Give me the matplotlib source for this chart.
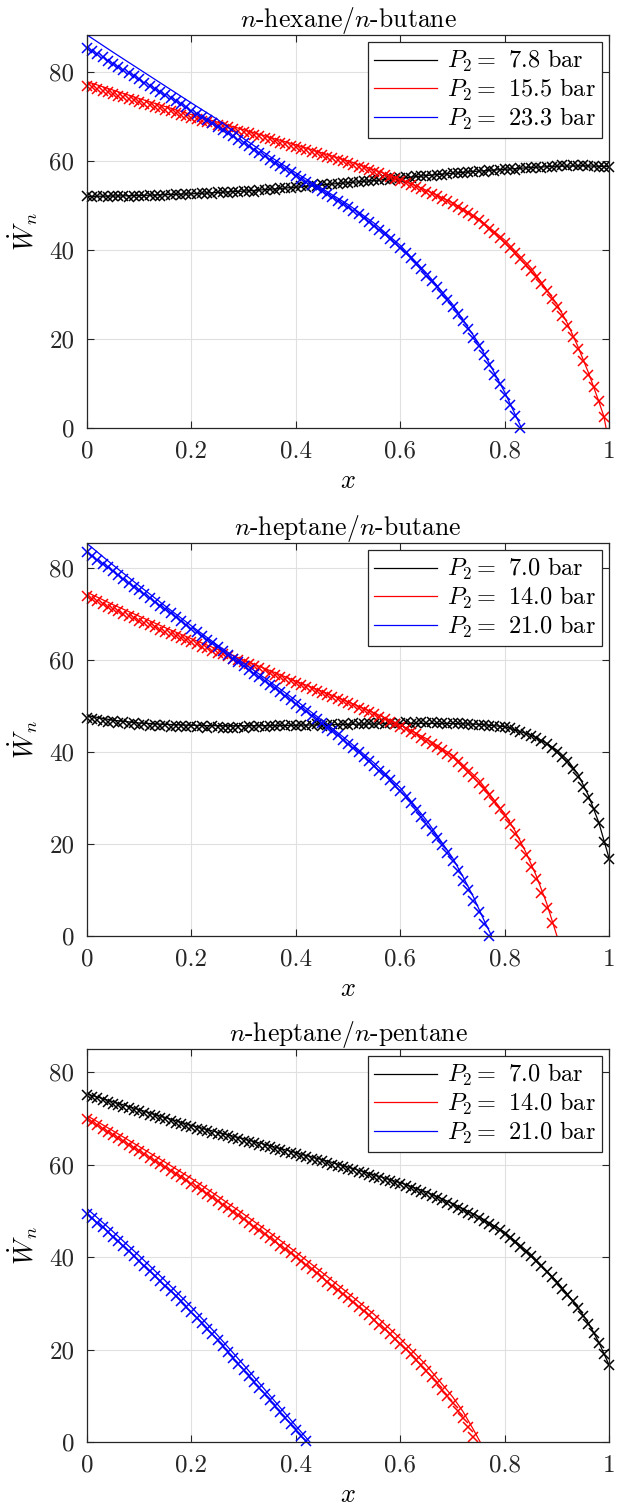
import numpy as np
import matplotlib
matplotlib.use("Agg")
import matplotlib.pyplot as plt

# Computer Modern look (cmr10 ships with matplotlib)
plt.rcParams['font.family'] = 'serif'
plt.rcParams['font.serif'] = ['cmr10']
plt.rcParams['mathtext.fontset'] = 'cm'
plt.rcParams['axes.formatter.use_mathtext'] = True

# ---------------- data ----------------
titles = [r'$n$-hexane/$n$-butane', r'$n$-heptane/$n$-butane', r'$n$-heptane/$n$-pentane']
pressures = [[7.8, 15.5, 23.3], [7.0, 14.0, 21.0], [7.0, 14.0, 21.0]]
ytops = [88.3, 85.4, 85.0]
colors = ['k', 'r', 'b']

# sampling grid of the simulated points (step 0.01)
x_pts = np.round(np.arange(101) * 0.01, 2)

# --- panel 1: n-hexane / n-butane ---
p1_black_line_x = [0, .05, .1, .15, .2, .25, .3, .35, .4, .45, .5, .55, .6, .65, .7, .75, .8, .85, .9, .95, 1.0]
p1_black_line_y = [52.0, 52.1, 52.2, 52.4, 52.6, 52.9, 53.2, 53.6, 54.1, 54.6, 55.1, 55.6, 56.1, 56.7, 57.2,
                   57.7, 58.1, 58.5, 58.8, 58.9, 58.7]
p1_black_pts = [52.1, 51.9, 52.0, 52.1, 51.9, 52.0, 52.2, 52.0, 51.9, 52.1, 52.2,
                52.1, 52.3, 52.2, 52.0, 52.4, 52.3, 52.5, 52.3, 52.6, 52.6,
                52.5, 52.8, 52.7, 52.6, 53.0, 52.9, 52.8, 53.1, 53.0, 53.2,
                53.3, 53.1, 53.5, 53.4, 53.7, 53.5, 53.9, 53.8, 54.0, 54.1,
                54.3, 54.1, 54.5, 54.4, 54.7, 54.6, 54.9, 54.8, 55.1, 55.1,
                55.3, 55.2, 55.5, 55.4, 55.7, 55.6, 55.9, 55.8, 56.1, 56.1,
                56.3, 56.2, 56.5, 56.5, 56.7, 56.6, 56.9, 56.8, 57.1, 57.2,
                57.3, 57.2, 57.5, 57.5, 57.7, 57.6, 57.9, 57.8, 58.0, 58.1,
                58.2, 58.0, 58.3, 58.4, 58.3, 58.6, 58.4, 58.7, 58.6, 58.8,
                59.0, 58.8, 59.1, 58.9, 59.0, 58.8, 58.9, 58.6, 58.7, 58.6]

p1_red_line_x = [0, .05, .1, .15, .2, .25, .3, .35, .4, .45, .5, .55, .6, .65, .7, .75, .8, .85, .9,
                 .92, .94, .96, .98, .99, .994]
p1_red_line_y = [77.8, 75.9, 74.0, 72.2, 70.4, 68.7, 67.0, 65.3, 63.6, 61.8, 60.0, 58.0, 55.9, 53.4, 50.6,
                 47.0, 42.2, 36.0, 27.8, 23.5, 18.3, 12.5, 6.0, 2.5, 0.0]
p1_red_pts = [76.9, 76.5, 76.1, 75.8, 75.4, 75.0, 74.6, 74.3, 73.9, 73.6, 73.2,
              72.8, 72.5, 72.1, 71.8, 71.4, 71.1, 70.7, 70.4, 70.0, 69.7,
              69.4, 69.0, 68.7, 68.4, 68.1, 67.8, 67.5, 67.1, 66.8, 66.5,
              66.2, 65.8, 65.5, 65.1, 64.8, 64.5, 64.1, 63.8, 63.4, 63.1,
              62.7, 62.4, 62.0, 61.7, 61.3, 60.9, 60.6, 60.2, 59.9, 59.5,
              59.1, 58.7, 58.4, 58.0, 57.6, 57.2, 56.8, 56.4, 55.9, 55.5,
              55.0, 54.6, 54.1, 53.6, 53.1, 52.6, 52.1, 51.5, 50.9, 50.3,
              49.7, 49.0, 48.3, 47.5, 46.7, 45.8, 44.8, 43.8, 42.7, 41.6,
              40.4, 39.2, 38.0, 36.7, 35.3, 33.8, 32.3, 30.7, 29.0, 27.2,
              25.2, 23.0, 20.5, 17.8, 15.0, 12.0, 9.1, 6.0, 2.5]

p1_blue_line_x = [0, .05, .1, .15, .2, .25, .3, .35, .4, .45, .5, .55, .6, .65, .7, .75, .8, .81, .82, .832]
p1_blue_line_y = [88.3, 84.4, 80.6, 76.8, 73.0, 69.3, 65.0, 61.0, 57.3, 53.8, 50.2, 46.0, 41.0, 34.8, 27.8,
                  19.0, 8.0, 5.5, 3.0, 0.0]
p1_blue_pts = [85.4, 84.7, 84.0, 83.3, 82.5, 81.8, 81.1, 80.4, 79.7, 79.0, 78.3,
               77.6, 76.9, 76.2, 75.5, 74.8, 74.1, 73.4, 72.7, 72.0, 71.3,
               70.6, 69.9, 69.2, 68.5, 67.7, 67.0, 66.2, 65.5, 64.7, 64.0,
               63.3, 62.5, 61.8, 61.0, 60.3, 59.6, 58.9, 58.1, 57.4, 56.7,
               56.0, 55.3, 54.6, 53.9, 53.2, 52.5, 51.8, 51.0, 50.3, 49.6,
               48.8, 48.0, 47.1, 46.3, 45.4, 44.5, 43.5, 42.5, 41.5, 40.4,
               39.3, 38.1, 36.9, 35.6, 34.2, 32.9, 31.6, 30.2, 28.8, 27.2,
               25.6, 24.0, 22.2, 20.3, 18.3, 16.3, 14.2, 12.0, 9.8, 7.5,
               5.1, 2.6, 0.0]

# --- panel 2: n-heptane / n-butane ---
p2_black_line_x = [0, .05, .1, .15, .2, .25, .3, .35, .4, .45, .5, .55, .6, .65, .7, .75, .8, .85, .88,
                   .9, .92, .94, .96, .98, 1.0]
p2_black_line_y = [47.9, 46.9, 46.3, 46.0, 45.8, 45.7, 45.7, 45.7, 45.8, 45.9, 46.0, 46.1, 46.2, 46.2, 46.2,
                   46.0, 45.5, 43.7, 41.9, 40.4, 38.3, 35.2, 30.6, 24.7, 16.8]
p2_black_pts = [47.4, 47.1, 47.0, 46.8, 46.6, 46.7, 46.3, 46.4, 46.1, 46.2, 45.9,
                46.0, 45.7, 45.9, 45.6, 45.8, 45.5, 45.7, 45.6, 45.4, 45.7,
                45.5, 45.6, 45.3, 45.6, 45.4, 45.1, 45.3, 45.2, 45.5, 45.3,
                45.6, 45.4, 45.7, 45.5, 45.7, 45.6, 45.8, 45.6, 45.8, 45.7,
                45.9, 45.7, 45.8, 46.0, 45.7, 45.9, 46.1, 45.8, 46.1, 45.9,
                46.2, 46.0, 46.1, 46.3, 46.0, 46.2, 46.1, 46.3, 46.0, 46.2,
                46.4, 46.1, 46.3, 46.4, 46.2, 46.4, 46.2, 46.3, 46.1, 46.2,
                46.2, 46.0, 46.1, 45.9, 45.9, 45.8, 45.6, 45.7, 45.4, 45.4,
                45.1, 44.8, 44.4, 44.0, 43.5, 43.0, 42.4, 41.7, 40.9, 40.0,
                39.0, 37.8, 36.3, 34.5, 32.3, 30.0, 27.7, 24.5, 20.5, 16.8]

p2_red_line_x = [0, .05, .1, .15, .2, .25, .3, .35, .4, .45, .5, .55, .6, .65, .7, .75, .8,
                 .82, .84, .86, .88, .9]
p2_red_line_y = [74.7, 72.0, 69.5, 67.0, 64.6, 62.3, 60.0, 57.7, 55.4, 53.2, 50.9, 48.5, 45.9, 42.9, 39.3,
                 34.0, 26.5, 22.8, 18.3, 13.2, 7.2, 0.0]
p2_red_pts = [73.8, 73.2, 72.7, 72.1, 71.6, 71.1, 70.6, 70.0, 69.5, 69.0, 68.5,
              68.0, 67.5, 67.1, 66.6, 66.1, 65.6, 65.2, 64.7, 64.3, 63.8,
              63.4, 62.9, 62.5, 62.0, 61.6, 61.2, 60.8, 60.3, 59.9, 59.5,
              59.1, 58.6, 58.2, 57.7, 57.2, 56.8, 56.3, 55.9, 55.4, 55.0,
              54.6, 54.2, 53.7, 53.3, 52.9, 52.4, 52.0, 51.5, 51.1, 50.6,
              50.1, 49.6, 49.2, 48.7, 48.2, 47.7, 47.1, 46.6, 46.1, 45.5,
              44.9, 44.4, 43.8, 43.1, 42.4, 41.7, 41.1, 40.4, 39.6, 38.8,
              37.8, 36.8, 35.7, 34.5, 33.3, 32.0, 30.6, 29.1, 27.6, 26.0,
              24.3, 22.2, 20.0, 17.6, 15.1, 12.4, 9.4, 6.2, 2.9]

p2_blue_line_x = [0, .05, .1, .15, .2, .25, .3, .35, .4, .45, .5, .55, .6, .65, .7, .72, .74, .76, .775]
p2_blue_line_y = [85.3, 80.6, 76.1, 71.7, 67.4, 63.2, 59.3, 55.3, 51.2, 46.9, 42.4, 37.6, 32.2, 25.2, 17.0,
                  12.9, 8.5, 3.5, 0.0]
p2_blue_pts = [83.4, 82.5, 81.7, 80.9, 80.1, 79.3, 78.4, 77.6, 76.8, 75.9, 75.1,
               74.3, 73.4, 72.6, 71.8, 71.0, 70.1, 69.3, 68.5, 67.6, 66.8,
               66.0, 65.2, 64.4, 63.6, 62.8, 62.0, 61.1, 60.3, 59.5, 58.7,
               57.9, 57.0, 56.2, 55.4, 54.6, 53.8, 53.0, 52.1, 51.3, 50.5,
               49.6, 48.8, 47.9, 47.1, 46.2, 45.3, 44.5, 43.6, 42.7, 41.8,
               40.9, 40.0, 39.0, 38.0, 37.0, 35.9, 34.9, 33.8, 32.7, 31.6,
               30.2, 28.8, 27.3, 25.9, 24.4, 22.9, 21.4, 19.8, 18.0, 16.2,
               14.1, 12.0, 9.9, 7.6, 5.2, 2.7, 0.1]

# --- panel 3: n-heptane / n-pentane ---
p3_black_line_x = [0, .05, .1, .15, .2, .25, .3, .35, .4, .45, .5, .55, .6, .65, .7, .75, .8, .85, .9,
                   .92, .94, .96, .98, 1.0]
p3_black_line_y = [75.3, 73.6, 71.9, 70.2, 68.5, 67.0, 65.6, 64.1, 62.6, 61.1, 59.5, 57.8, 56.1, 54.1, 51.6,
                   48.8, 45.4, 40.6, 34.7, 32.0, 29.1, 25.8, 21.6, 16.6]
p3_black_pts = [75.0, 74.6, 74.3, 73.9, 73.6, 73.2, 72.9, 72.5, 72.2, 71.8, 71.5,
                71.2, 70.8, 70.5, 70.1, 69.8, 69.5, 69.1, 68.8, 68.4, 68.1,
                67.8, 67.5, 67.2, 66.9, 66.6, 66.4, 66.1, 65.8, 65.5, 65.2,
                64.9, 64.6, 64.3, 64.0, 63.7, 63.4, 63.1, 62.8, 62.5, 62.2,
                61.9, 61.6, 61.3, 61.0, 60.7, 60.3, 60.0, 59.7, 59.4, 59.1,
                58.8, 58.4, 58.1, 57.8, 57.4, 57.1, 56.7, 56.4, 56.0, 55.7,
                55.3, 54.9, 54.5, 54.1, 53.7, 53.2, 52.8, 52.3, 51.7, 51.2,
                50.7, 50.1, 49.6, 49.0, 48.4, 47.8, 47.1, 46.5, 45.8, 45.0,
                44.1, 43.2, 42.2, 41.2, 40.2, 39.1, 38.0, 36.8, 35.6, 34.4,
                33.1, 31.8, 30.4, 28.9, 27.3, 25.6, 23.6, 21.5, 19.1, 16.6]

p3_red_line_x = [0, .05, .1, .15, .2, .25, .3, .35, .4, .45, .5, .55, .6, .65, .7, .72, .74, .753]
p3_red_line_y = [70.6, 67.3, 63.9, 60.5, 57.0, 53.2, 49.3, 45.3, 41.1, 36.7, 32.2, 27.6, 22.4, 16.6, 9.8,
                 6.6, 2.7, 0.0]
p3_red_pts = [69.9, 69.2, 68.5, 67.8, 67.1, 66.4, 65.7, 65.0, 64.3, 63.6, 62.9,
              62.2, 61.5, 60.8, 60.1, 59.4, 58.7, 58.0, 57.3, 56.6, 55.9,
              55.1, 54.4, 53.6, 52.9, 52.1, 51.3, 50.6, 49.8, 49.0, 48.2,
              47.4, 46.6, 45.8, 45.0, 44.2, 43.4, 42.5, 41.7, 40.8, 40.0,
              39.1, 38.3, 37.4, 36.5, 35.6, 34.7, 33.8, 32.9, 32.0, 31.1,
              30.2, 29.3, 28.3, 27.4, 26.4, 25.4, 24.4, 23.3, 22.3, 21.2,
              20.1, 19.0, 17.8, 16.6, 15.3, 14.0, 12.7, 11.3, 9.9, 8.4,
              6.8, 5.1, 3.2, 1.1]

p3_blue_line_x = [0, .05, .1, .15, .2, .25, .3, .35, .4, .427]
p3_blue_line_y = [50.5, 45.5, 40.3, 34.9, 29.2, 23.1, 16.7, 10.1, 3.5, 0.0]
p3_blue_pts = [49.4, 48.4, 47.4, 46.4, 45.4, 44.4, 43.4, 42.3, 41.3, 40.2, 39.2,
               38.1, 37.0, 36.0, 34.9, 33.8, 32.7, 31.6, 30.4, 29.3, 28.1,
               26.9, 25.7, 24.5, 23.3, 22.0, 20.8, 19.5, 18.2, 16.9, 15.6,
               14.3, 13.0, 11.7, 10.4, 9.0, 7.7, 6.4, 5.2, 3.9, 2.6,
               1.4, 0.2]

panels = [
    [(p1_black_line_x, p1_black_line_y, p1_black_pts),
     (p1_red_line_x, p1_red_line_y, p1_red_pts),
     (p1_blue_line_x, p1_blue_line_y, p1_blue_pts)],
    [(p2_black_line_x, p2_black_line_y, p2_black_pts),
     (p2_red_line_x, p2_red_line_y, p2_red_pts),
     (p2_blue_line_x, p2_blue_line_y, p2_blue_pts)],
    [(p3_black_line_x, p3_black_line_y, p3_black_pts),
     (p3_red_line_x, p3_red_line_y, p3_red_pts),
     (p3_blue_line_x, p3_blue_line_y, p3_blue_pts)],
]

# ---------------- figure ----------------
fig = plt.figure(figsize=(6.21, 15.10), dpi=100)
bottoms = [0.7166, 0.3801, 0.0450]

for i in range(3):
    ax = fig.add_axes([0.140, bottoms[i], 0.841, 0.2603])
    handles = []
    for c, p, (lx, ly, py) in zip(colors, pressures[i], panels[i]):
        h, = ax.plot(lx, ly, color=c, lw=0.9, label=r'$P_2 =$ %.1f bar' % p)
        ax.plot(x_pts[:len(py)], py, ls='none', marker='x', ms=7.5, mew=1.1,
                color=c, clip_on=False)
        handles.append(h)

    ax.set_xlim(0, 1)
    ax.set_ylim(0, ytops[i])
    ax.set_xticks([0, 0.2, 0.4, 0.6, 0.8, 1.0])
    ax.set_xticklabels(['0', '0.2', '0.4', '0.6', '0.8', '1'])
    ax.set_yticks([0, 20, 40, 60, 80])
    ax.set_yticklabels(['0', '20', '40', '60', '80'])
    ax.grid(True, color='#e0e0e0', lw=0.8)
    ax.set_axisbelow(True)
    ax.tick_params(direction='in', top=True, right=True, length=5, width=0.8,
                   labelsize=18, pad=9, colors='#262626')
    for s in ax.spines.values():
        s.set_linewidth(0.9)
        s.set_color('#262626')

    ax.set_title(titles[i], fontsize=18.5, pad=6)
    ax.set_xlabel(r'$x$', fontsize=19, labelpad=5)
    ax.set_ylabel(r'$\dot{W}_n$', fontsize=19, labelpad=7)

    leg = ax.legend(handles=handles, loc='upper right', fancybox=False, framealpha=1,
                    edgecolor='#262626', fontsize=17.5, handlelength=2.6, handletextpad=0.4,
                    labelspacing=0.1, borderpad=0.25, borderaxespad=0.3)
    leg.get_frame().set_linewidth(0.9)

fig.savefig('out.png', dpi=100)
